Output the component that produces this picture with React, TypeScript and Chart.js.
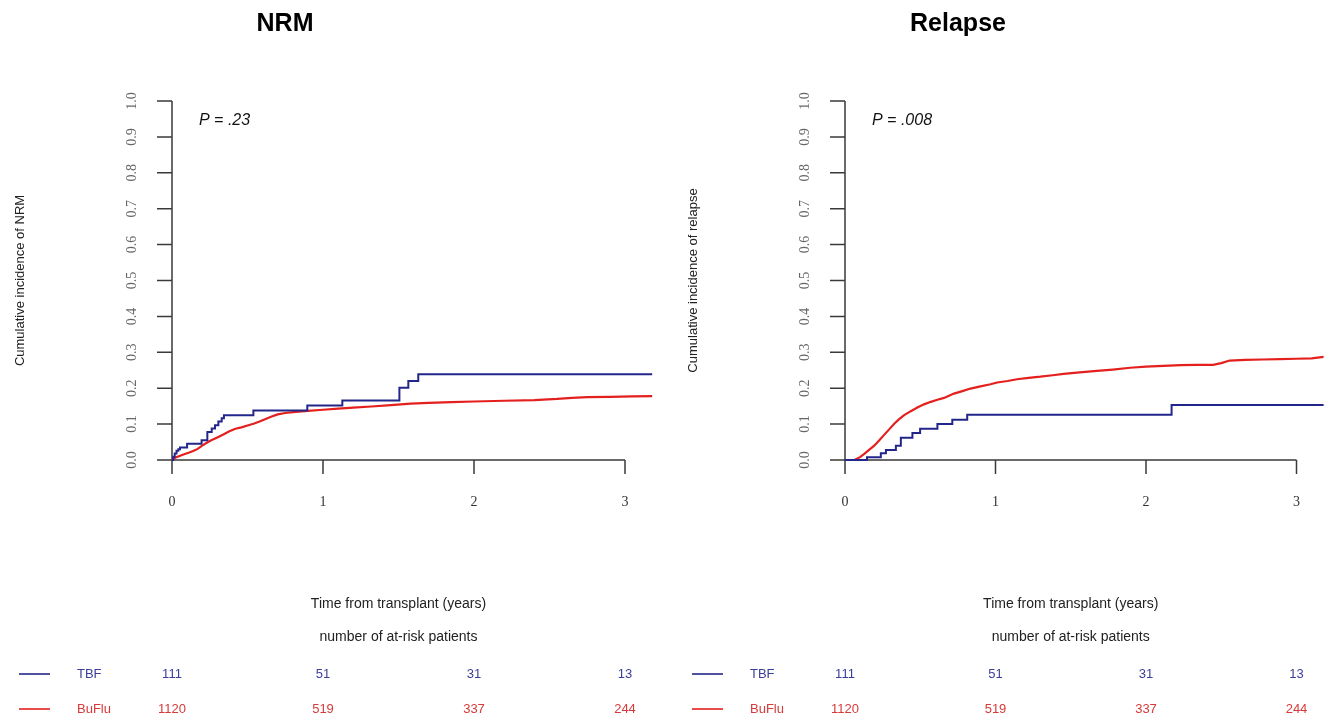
import React, { useEffect, useRef } from "react";
import { Chart, registerables } from "chart.js";

Chart.register(...registerables);

// ---------- data ----------
const TIME_TICKS = [0, 1, 2, 3];
const Y_TICKS = [0, 0.1, 0.2, 0.3, 0.4, 0.5, 0.6, 0.7, 0.8, 0.9, 1.0];
const Y_TICK_LABELS = ["0.0", "0.1", "0.2", "0.3", "0.4", "0.5", "0.6", "0.7", "0.8", "0.9", "1.0"];
const X_MAX = 3.18;

const GROUPS = ["TBF", "BuFlu"];
const AT_RISK_TBF = [111, 51, 31, 13];
const AT_RISK_BUFLU = [1120, 519, 337, 244];

// NRM panel
const NRM_TBF_X = [0, 0.008, 0.018, 0.03, 0.042, 0.053, 0.1, 0.196, 0.234, 0.263, 0.285, 0.307, 0.329, 0.344, 0.539, 0.896, 1.128, 1.506, 1.565, 1.631, 3.18];
const NRM_TBF_Y = [0, 0.009, 0.018, 0.026, 0.03, 0.035, 0.045, 0.055, 0.078, 0.088, 0.097, 0.107, 0.116, 0.125, 0.138, 0.152, 0.166, 0.201, 0.22, 0.239, 0.239];
const NRM_BUFLU_X = [0, 0.02, 0.05, 0.08, 0.11, 0.14, 0.17, 0.2, 0.23, 0.26, 0.3, 0.34, 0.38, 0.42, 0.46, 0.5, 0.54, 0.58, 0.62, 0.66, 0.7, 0.75, 0.82, 0.9, 1.0, 1.1, 1.2, 1.32, 1.45, 1.58, 1.7, 1.85, 2.0, 2.2, 2.4, 2.55, 2.65, 2.75, 2.9, 3.05, 3.18];
const NRM_BUFLU_Y = [0, 0.006, 0.011, 0.016, 0.02, 0.025, 0.031, 0.04, 0.048, 0.055, 0.063, 0.071, 0.08, 0.087, 0.091, 0.096, 0.101, 0.107, 0.114, 0.121, 0.127, 0.131, 0.134, 0.137, 0.14, 0.143, 0.146, 0.149, 0.153, 0.157, 0.159, 0.161, 0.163, 0.165, 0.167, 0.17, 0.173, 0.175, 0.176, 0.177, 0.178];

// Relapse panel
const REL_TBF_X = [0, 0.146, 0.238, 0.272, 0.338, 0.371, 0.448, 0.499, 0.614, 0.713, 0.812, 2.17, 3.18];
const REL_TBF_Y = [0, 0.008, 0.019, 0.028, 0.04, 0.062, 0.075, 0.087, 0.1, 0.112, 0.126, 0.153, 0.153];
const REL_BUFLU_X = [0, 0.062, 0.1, 0.128, 0.16, 0.194, 0.228, 0.26, 0.295, 0.327, 0.36, 0.393, 0.437, 0.481, 0.525, 0.57, 0.614, 0.658, 0.724, 0.78, 0.834, 0.9, 0.967, 1.011, 1.08, 1.143, 1.22, 1.298, 1.38, 1.453, 1.56, 1.673, 1.78, 1.894, 2.0, 2.115, 2.23, 2.336, 2.446, 2.5, 2.556, 2.66, 2.777, 2.89, 2.998, 3.1, 3.18];
const REL_BUFLU_Y = [0, 0, 0.008, 0.017, 0.028, 0.04, 0.055, 0.07, 0.086, 0.101, 0.114, 0.125, 0.136, 0.146, 0.155, 0.162, 0.168, 0.173, 0.185, 0.192, 0.199, 0.205, 0.211, 0.216, 0.22, 0.225, 0.229, 0.232, 0.236, 0.24, 0.244, 0.248, 0.252, 0.257, 0.26, 0.262, 0.264, 0.265, 0.265, 0.27, 0.277, 0.279, 0.28, 0.281, 0.282, 0.283, 0.287];

// ---------- styles ----------
const BLUE = "#22268a";
const RED = "#e3201e";
const BLUE_TEXT = "#3b3e9a";
const RED_TEXT = "#d63a3a";
const AXIS = "#3a3a3a";
const SANS = "'Liberation Sans', Arial, sans-serif";
const SERIF = "'Liberation Serif', 'Times New Roman', serif";

type PanelCfg = {
  title: string;
  yTitle: string;
  pText: string;
  tbfX: number[];
  tbfY: number[];
  bufluX: number[];
  bufluY: number[];
  left: number;
  padLeft: number;
  padRight: number;
};

const toPts = (xs: number[], ys: number[]) => xs.map((x, i) => ({ x, y: ys[i] }));

function makePlugin(cfg: PanelCfg) {
  return {
    id: "rstyle",
    beforeDatasetsDraw(chart: any) {
      const ctx = chart.ctx as CanvasRenderingContext2D;
      const xs = chart.scales.x;
      const ys = chart.scales.y;
      const x0 = xs.getPixelForValue(0);
      const y0 = ys.getPixelForValue(0);
      ctx.save();
      ctx.strokeStyle = AXIS;
      ctx.lineWidth = 1.5;
      ctx.beginPath();
      ctx.moveTo(x0, y0);
      ctx.lineTo(x0, ys.getPixelForValue(1));
      Y_TICKS.forEach((v) => {
        const py = ys.getPixelForValue(v);
        ctx.moveTo(x0 - 15, py);
        ctx.lineTo(x0, py);
      });
      ctx.moveTo(x0, y0);
      ctx.lineTo(xs.getPixelForValue(3), y0);
      TIME_TICKS.forEach((t) => {
        const px = xs.getPixelForValue(t);
        ctx.moveTo(px, y0);
        ctx.lineTo(px, y0 + 14);
      });
      ctx.stroke();
      ctx.restore();
    },
    afterDraw(chart: any) {
      const ctx = chart.ctx as CanvasRenderingContext2D;
      const xs = chart.scales.x;
      const ys = chart.scales.y;
      const x0 = xs.getPixelForValue(0);
      const y0 = ys.getPixelForValue(0);
      ctx.save();
      // y tick labels (rotated)
      ctx.fillStyle = "#666";
      ctx.font = `14px ${SERIF}`;
      ctx.textAlign = "center";
      ctx.textBaseline = "middle";
      Y_TICKS.forEach((v, i) => {
        const py = ys.getPixelForValue(v);
        ctx.save();
        ctx.translate(x0 - 40, py);
        ctx.rotate(-Math.PI / 2);
        ctx.fillText(Y_TICK_LABELS[i], 0, 0);
        ctx.restore();
      });
      // x tick labels
      ctx.fillStyle = "#333";
      TIME_TICKS.forEach((t) => {
        ctx.fillText(String(t), xs.getPixelForValue(t), y0 + 42);
      });
      // title
      ctx.fillStyle = "#000";
      ctx.font = `bold 25px ${SANS}`;
      ctx.fillText(cfg.title, x0 + 113, 24);
      // y axis title
      ctx.font = `13px ${SANS}`;
      ctx.fillStyle = "#222";
      ctx.save();
      ctx.translate(x0 - 152, (y0 + ys.getPixelForValue(1)) / 2);
      ctx.rotate(-Math.PI / 2);
      ctx.fillText(cfg.yTitle, 0, 0);
      ctx.restore();
      // P value
      ctx.font = `italic 16px ${SANS}`;
      ctx.textAlign = "left";
      ctx.fillStyle = "#111";
      ctx.fillText(cfg.pText, x0 + 27, 121);
      // x title and at-risk header
      const cx = xs.getPixelForValue(1.5);
      ctx.textAlign = "center";
      ctx.fillStyle = "#222";
      ctx.font = `14px ${SANS}`;
      ctx.fillText("Time from transplant (years)", cx, 604);
      ctx.fillText("number of at-risk patients", cx, 637);
      // at-risk table
      const rows = [
        { name: GROUPS[0], vals: AT_RISK_TBF, line: BLUE, text: BLUE_TEXT, y: 674 },
        { name: GROUPS[1], vals: AT_RISK_BUFLU, line: RED, text: RED_TEXT, y: 709 },
      ];
      rows.forEach((r) => {
        ctx.strokeStyle = r.line;
        ctx.lineWidth = 1.6;
        ctx.beginPath();
        ctx.moveTo(x0 - 153, r.y);
        ctx.lineTo(x0 - 122, r.y);
        ctx.stroke();
        ctx.fillStyle = r.text;
        ctx.font = `13px ${SANS}`;
        ctx.textAlign = "left";
        ctx.fillText(r.name, x0 - 95, r.y);
        ctx.textAlign = "center";
        r.vals.forEach((v, i) => {
          ctx.fillText(String(v), xs.getPixelForValue(TIME_TICKS[i]), r.y);
        });
      });
      ctx.restore();
    },
  };
}

function Panel({ cfg }: { cfg: PanelCfg }) {
  const ref = useRef<HTMLCanvasElement | null>(null);
  useEffect(() => {
    const canvas = ref.current;
    if (!canvas) return;
    const chart = new Chart(canvas, {
      type: "line",
      data: {
        datasets: [
          {
            label: GROUPS[0],
            data: toPts(cfg.tbfX, cfg.tbfY),
            borderColor: BLUE,
            borderWidth: 2,
            stepped: "before",
            pointRadius: 0,
            fill: false,
            clip: 10,
          },
          {
            label: GROUPS[1],
            data: toPts(cfg.bufluX, cfg.bufluY),
            borderColor: RED,
            borderWidth: 2.2,
            stepped: false,
            tension: 0,
            pointRadius: 0,
            fill: false,
            clip: 10,
          },
        ],
      },
      options: {
        responsive: false,
        animation: false,
        events: [],
        layout: { padding: { left: cfg.padLeft, right: cfg.padRight, top: 101, bottom: 257 } },
        scales: {
          x: { type: "linear", min: 0, max: X_MAX, display: false },
          y: { type: "linear", min: 0, max: 1, display: false },
        },
        plugins: {
          legend: { display: false },
          tooltip: { enabled: false },
          title: { display: false },
        },
      },
      plugins: [makePlugin(cfg)],
    } as any);
    return () => chart.destroy();
  }, [cfg]);
  return (
    <canvas
      ref={ref}
      width={663}
      height={717}
      style={{ position: "absolute", left: cfg.left, top: 0, width: 663, height: 717 }}
    />
  );
}

const NRM_CFG: PanelCfg = {
  title: "NRM",
  yTitle: "Cumulative incidence of NRM",
  pText: "P = .23",
  tbfX: NRM_TBF_X,
  tbfY: NRM_TBF_Y,
  bufluX: NRM_BUFLU_X,
  bufluY: NRM_BUFLU_Y,
  left: 0,
  padLeft: 172,
  padRight: 663 - (172 + X_MAX * 151),
};

const REL_CFG: PanelCfg = {
  title: "Relapse",
  yTitle: "Cumulative incidence of relapse",
  pText: "P = .008",
  tbfX: REL_TBF_X,
  tbfY: REL_TBF_Y,
  bufluX: REL_BUFLU_X,
  bufluY: REL_BUFLU_Y,
  left: 663,
  padLeft: 182,
  padRight: 663 - (182 + X_MAX * 150.5),
};

export default function App() {
  return (
    <div style={{ position: "absolute", left: 0, top: 0, width: 1326, height: 717, background: "#fff", overflow: "hidden" }}>
      <Panel cfg={NRM_CFG} />
      <Panel cfg={REL_CFG} />
    </div>
  );
}
